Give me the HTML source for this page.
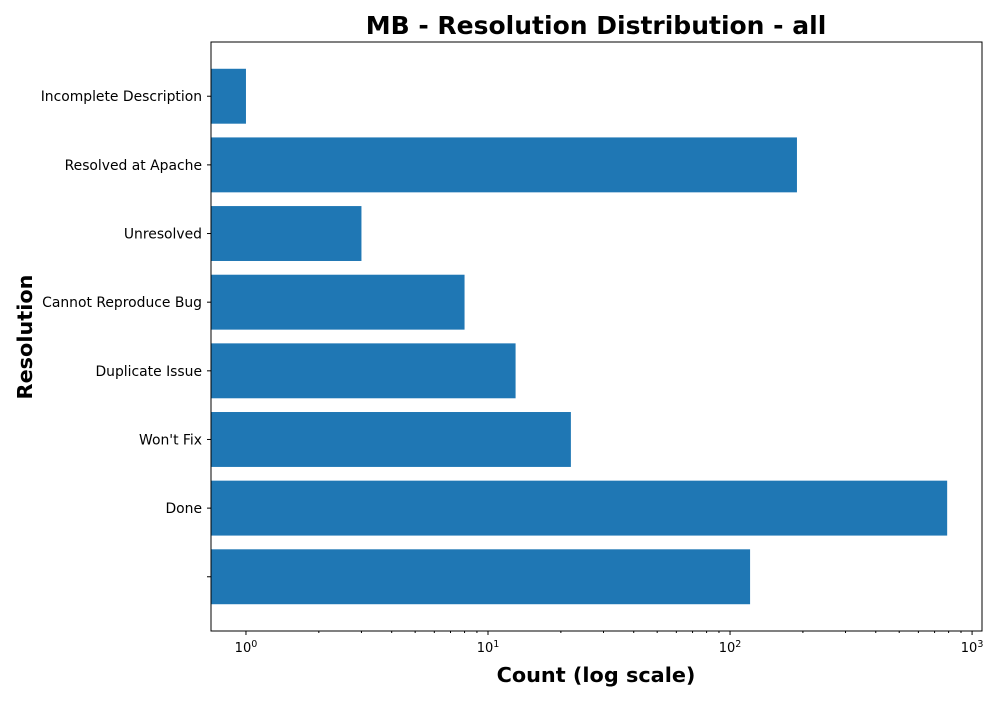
<!DOCTYPE html>
<html><head><meta charset="utf-8"><style>
body{margin:0;background:#fff;font-family:"Liberation Sans","DejaVu Sans",sans-serif}
svg text{font-family:"DejaVu Sans","Liberation Sans",sans-serif}
</style></head><body>
<svg id="chart" width="1000" height="700" xmlns="http://www.w3.org/2000/svg">
<text x="596" y="34" text-anchor="middle" font-size="25" font-weight="bold">MB - Resolution Distribution - all</text>
<text x="596" y="682" text-anchor="middle" font-size="20.8" font-weight="bold">Count (log scale)</text>
<text transform="translate(32,337) rotate(-90)" text-anchor="middle" font-size="20.8" font-weight="bold">Resolution</text>
<g id="bars"></g><g id="axes"></g>
<rect x="211" y="42" width="771" height="589" fill="none" stroke="#000" stroke-width="1"/>
</svg>
<script>
const categories = ["", "Done", "Won't Fix", "Duplicate Issue", "Cannot Reproduce Bug", "Unresolved", "Resolved at Apache", "Incomplete Description"];
const counts = [121, 789, 22, 13, 8, 3, 189, 1];
const xTickValues = [1, 10, 100, 1000];
const xTickLabels = ["0", "1", "2", "3"];

const L=211,R=982,T=42,B=631;
const xMin=Math.log10(0.717), xMax=Math.log10(1099);
function xs(v){return L+(Math.log10(v)-xMin)/(xMax-xMin)*(R-L);}
const yLo=-0.79,yHi=categories.length-1+0.79;
function ys(i){return B-(i-yLo)/(yHi-yLo)*(B-T);}
const NS="http://www.w3.org/2000/svg";
function mk(t,a,p){const e=document.createElementNS(NS,t);for(const k in a)e.setAttribute(k,a[k]);p.appendChild(e);return e;}
const bars=document.getElementById('bars'),axes=document.getElementById('axes');
const bw=(ys(0)-ys(1))*0.8;
counts.forEach((v,i)=>{
  const r=mk('rect',{x:L,y:ys(i)-bw/2,width:xs(v)-L,height:bw,fill:'#1f77b4'},bars);
  
  
  const tk=mk('line',{x1:L-4,x2:L,y1:ys(i),y2:ys(i),stroke:'#000'},axes);
  
  
  const t=mk('text',{x:L-9,y:ys(i)+5,'text-anchor':'end','font-size':'13.9'},axes);
  t.textContent=categories[i];
  
  
});
xTickValues.forEach((v,i)=>{
  const x=xs(v);
  const tk=mk('line',{x1:x,x2:x,y1:B,y2:B+4,stroke:'#000'},axes);
  
  
  const t=mk('text',{x:x,y:B+21,'text-anchor':'middle','font-size':'13'},axes);
  t.innerHTML='10<tspan dy="-5" font-size="9.5">'+xTickLabels[i]+'</tspan>';
  
  
  if(v<1000)for(let m=2;m<10;m++){
    const mx=xs(v*m);
    const mt=mk('line',{x1:mx,x2:mx,y1:B,y2:B+2,stroke:'#000'},axes);
    
    
  }
});
</script>
</body></html>
